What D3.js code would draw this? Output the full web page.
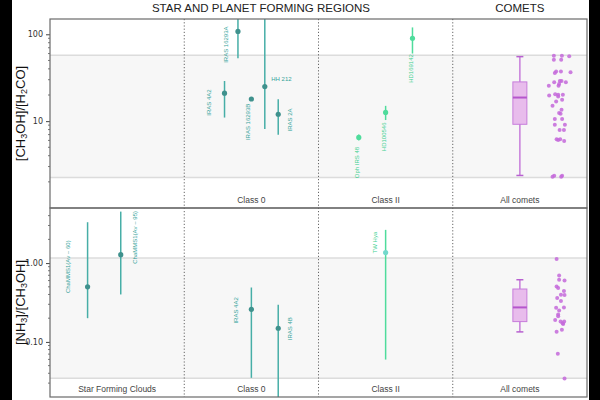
<!DOCTYPE html>
<html>
<head>
<meta charset="utf-8">
<script src="https://cdn.jsdelivr.net/npm/d3@7"></script>
<style>
  body { margin: 0; background: #000; }
  svg { display: block; }
</style>
</head>
<body>
<script>
// columns of the chart
const columns = ["Star Forming Clouds", "Class 0", "Class II", "All comets"];
const topColumnLabels = ["", "Class 0", "Class II", "All comets"];
const botColumnLabels = ["Star Forming Clouds", "Class 0", "Class II", "All comets"];

// [CH3OH]/[H2CO]  (slot = position inside the column, in tenths of its width)
const topClass0 = [
    { name: "IRAS 4A2", slot: -2, v: 21, lo: 11, hi: 29 },
    { name: "IRAS 16293A", slot: -1, v: 108, lo: 53, hi: 400 },
    { name: "IRAS 16293B", slot: 0, v: 18, lo: null, hi: null },
    { name: "HH 212", slot: 1, v: 25, lo: 8.1, hi: 400 },
    { name: "IRAS 2A", slot: 2, v: 12, lo: 6.95, hi: 17.9 }
];
const topClass2 = [
    { name: "Oph IRS 48", slot: -2, v: 6.5, lo: 6.0, hi: 7.0 },
    { name: "HD100546", slot: 0, v: 12.6, lo: 10.3, hi: 15 },
    { name: "HD169142", slot: 2, v: 90, lo: 60, hi: 120 }
];
// label anchors: slot offset and value at label centre
const topClass0Labels = [
    { name: "IRAS 4A2", slot: -3.2, v: 16.4, rot: true },
    { name: "IRAS 16293A", slot: -1.87, v: 76, rot: true },
    { name: "IRAS 16293B", slot: -0.25, v: 9.8, rot: true },
    { name: "HH 212", slot: 2.24, v: 31, rot: false },
    { name: "IRAS 2A", slot: 2.84, v: 10.3, rot: true }
];
const topClass2Labels = [
    { name: "Oph IRS 48", slot: -2.15, v: 3.34, rot: true },
    { name: "HD100546", slot: -0.11, v: 6.6, rot: true },
    { name: "HD169142", slot: 1.9, v: 40.4, rot: true }
];
// comets: [value, jitter]
const topComets = [
    [56.8, -0.46], [56.8, 0.21], [55.8, 0.82], [51, -0.46], [51, 0.15],
    [37.2, -0.27], [35.9, -0.38], [37.2, 0.13], [36.6, 0.93],
    [29, 0.04], [29, 0.18], [25.6, -0.07], [28.1, -0.43], [28.1, 0.54], [26.8, -0.02], [25.5, -0.88],
    [20.4, -0.35], [20.1, -0.1], [19.7, -0.85], [20.1, 0.29], [19.2, -0.1],
    [16.8, -0.27], [17.6, 0.23], [15, -0.57], [13.5, 0.18], [12.4, -0.02], [12.2, 0.1],
    [10.6, -0.38], [10.6, 0.23], [9.1, -0.38], [9.1, 0.46], [7.9, 0.02], [7.9, 0.38],
    [6.2, -0.23], [6.05, -0.1], [6.2, 0.07], [5.9, 0.4],
    [2.35, -0.43], [2.29, -0.57], [2.35, 0.23], [2.29, 0.15]
];
const topBox = [2.37, 9.2, 18.7, 28.3, 55.3];   // min, q1, median, q3, max
const topBand = [2.25, 57.4];

// [NH3]/[CH3OH]
const botClouds = [
    { name: "ChaMMS1(Av ~ 60)", slot: -2.2, v: 0.5, lo: 0.2, hi: 3.3 },
    { name: "ChaMMS1(Av ~ 95)", slot: 0.27, v: 1.28, lo: 0.4, hi: 4.5 }
];
const botClass0 = [
    { name: "IRAS 4A2", slot: 0, v: 0.259, lo: 0.035, hi: 0.49 },
    { name: "IRAS 4B", slot: 2, v: 0.149, lo: 0.01, hi: 0.297 }
];
const botClass2 = [
    { name: "TW Hya", slot: 0, v: 1.36, lo: 0.0597, hi: 2.64 }
];
const botCloudLabels = [
    { name: "ChaMMS1(Av ~ 60)", slot: -3.68, v: 0.9, rot: true },
    { name: "ChaMMS1(Av ~ 95)", slot: 1.34, v: 2.12, rot: true }
];
const botClass0Labels = [
    { name: "IRAS 4A2", slot: -1.12, v: 0.251, rot: true },
    { name: "IRAS 4B", slot: 2.9, v: 0.147, rot: true }
];
const botClass2Labels = [
    { name: "TW Hya", slot: -0.8, v: 1.82, rot: true }
];
const botComets = [
    [1.13, -0.23], [0.697, -0.02], [0.615, -0.02], [0.602, 0.43], [0.506, -0.23],
    [0.483, -0.1], [0.443, 0.38], [0.397, 0.13], [0.394, 0.43], [0.361, -0.18],
    [0.33, 0.13], [0.274, 0.38], [0.272, -0.27], [0.251, -0.02], [0.222, -0.1],
    [0.211, -0.1], [0.19, -0.35], [0.182, 0.1], [0.172, 0.27], [0.181, 0.4],
    [0.169, 0.32], [0.143, 0.21], [0.135, -0.23], [0.0705, -0.13], [0.0343, 0.43]
];
const botBox = [0.134, 0.181, 0.274, 0.469, 0.615];
const botBand = [0.0346, 1.16];

const topTicks = [10, 100];
const botTicks = [0.1, 1];

const width = 600, height = 400;
const left = 50, right = 587;
const panelTop = [19, 208], panelBot = [208, 397];

const teal = "#47aea7", tealDot = "#3f918d", tealText = "#36a49b";
const mint = "#4fdc9c", mintText = "#3fd192";
const purple = "#c468da", boxFill = "#e8bcec", boxStroke = "#c77ddb";

const svg = d3.select("body").append("svg")
    .attr("width", width)
    .attr("height", height);

svg.append("rect")
    .attr("x", 12).attr("y", 0)
    .attr("width", 577).attr("height", height)
    .attr("fill", "#fff");

const x = d3.scaleBand().domain(columns).range([left, right]);
const slotW = x.bandwidth() / 10;
const cx = col => x(col) + x.bandwidth() / 2;
const jitter = d3.scaleLinear().domain([-1, 1]).range([cx("All comets") + 27.5, cx("All comets") + 51.5]);

const yTop = d3.scaleLog().domain([1, 150]).range([panelTop[1], panelTop[0]]);
const yBot = d3.scaleLog().domain([0.02, 5]).range([panelBot[1], panelBot[0]]);

// titles
svg.append("text")
    .attr("x", 261).attr("y", 12)
    .attr("text-anchor", "middle")
    .style("font", "11.5px 'Liberation Sans', Arial, sans-serif")
    .style("fill", "#222")
    .text("STAR AND PLANET FORMING REGIONS");
svg.append("text")
    .attr("x", cx("All comets")).attr("y", 12)
    .attr("text-anchor", "middle")
    .style("font", "11.5px 'Liberation Sans', Arial, sans-serif")
    .style("fill", "#222")
    .text("COMETS");

function drawPanel(id, y, range, band, ticks, tickFmt, colLabels, groups, comets, box, title) {
    const g = svg.append("g");

    g.append("clipPath").attr("id", id)
        .append("rect")
        .attr("x", left).attr("y", range[0])
        .attr("width", right - left).attr("height", range[1] - range[0]);

    // grey band = comet range
    g.append("rect")
        .attr("x", left).attr("y", y(band[1]))
        .attr("width", right - left).attr("height", y(band[0]) - y(band[1]))
        .attr("fill", "#f7f7f7");
    g.selectAll(".bandline")
        .data(band)
        .enter()
        .append("line")
        .attr("x1", left).attr("x2", right)
        .attr("y1", d => y(d)).attr("y2", d => y(d))
        .attr("stroke", "#dcdcdc")
        .attr("stroke-width", 1.5);

    // column labels
    g.selectAll(".collabel")
        .data(colLabels.map((t, i) => ({ t: t, col: columns[i] })))
        .enter()
        .append("text")
        .attr("x", d => cx(d.col))
        .attr("y", range[1] - 5)
        .attr("text-anchor", "middle")
        .style("font", "8.5px 'Liberation Sans', Arial, sans-serif")
        .style("fill", "#444")
        .text(d => d.t);

    const plot = g.append("g").attr("clip-path", `url(#${id})`);

    groups.forEach(grp => {
        const c = cx(grp.col);
        plot.selectAll(null)
            .data(grp.data.filter(d => d.lo !== null))
            .enter()
            .append("line")
            .attr("x1", d => c + d.slot * slotW).attr("x2", d => c + d.slot * slotW)
            .attr("y1", d => y(d.lo)).attr("y2", d => y(d.hi))
            .attr("stroke", grp.line)
            .attr("stroke-width", 1.5);
        plot.selectAll(null)
            .data(grp.data)
            .enter()
            .append("circle")
            .attr("cx", d => c + d.slot * slotW)
            .attr("cy", d => y(d.v))
            .attr("r", 2.6)
            .attr("fill", grp.dot);
        plot.selectAll(null)
            .data(grp.labels)
            .enter()
            .append("text")
            .attr("transform", d => `translate(${c + d.slot * slotW},${y(d.v)})` + (d.rot ? " rotate(-90)" : ""))
            .attr("text-anchor", "middle")
            .attr("dy", "0.35em")
            .style("font", "6px 'Liberation Sans', Arial, sans-serif")
            .style("fill", grp.text)
            .text(d => d.name);
    });

    // comets box plot
    const bc = cx("All comets");
    const bw = 14;
    plot.append("line")
        .attr("x1", bc).attr("x2", bc)
        .attr("y1", y(box[0])).attr("y2", y(box[4]))
        .attr("stroke", boxStroke).attr("stroke-width", 1.5);
    plot.append("rect")
        .attr("x", bc - bw / 2).attr("y", y(box[3]))
        .attr("width", bw).attr("height", y(box[1]) - y(box[3]))
        .attr("fill", boxFill)
        .attr("stroke", boxStroke).attr("stroke-width", 1);
    plot.append("line")
        .attr("x1", bc - bw / 2).attr("x2", bc + bw / 2)
        .attr("y1", y(box[2])).attr("y2", y(box[2]))
        .attr("stroke", "#b555cc").attr("stroke-width", 2);
    plot.selectAll(".cap")
        .data([box[0], box[4]])
        .enter()
        .append("line")
        .attr("x1", bc - 3.5).attr("x2", bc + 3.5)
        .attr("y1", d => y(d)).attr("y2", d => y(d))
        .attr("stroke", "#b861d0").attr("stroke-width", 1.5);

    plot.selectAll(".comet")
        .data(comets)
        .enter()
        .append("circle")
        .attr("cx", d => jitter(d[1]))
        .attr("cy", d => y(d[0]))
        .attr("r", 2)
        .attr("fill", purple)
        .attr("fill-opacity", 0.85);

    // y axis
    const axis = d3.axisLeft(y)
        .tickValues(ticks)
        .tickFormat(tickFmt)
        .tickSize(4)
        .tickPadding(3);
    const ax = g.append("g")
        .attr("transform", `translate(${left},0)`)
        .call(axis);
    ax.select(".domain").remove();
    ax.selectAll("text")
        .style("font", "8px 'DejaVu Sans', sans-serif")
        .style("fill", "#333");
    ax.selectAll("line").attr("stroke", "#444");

    const [d0, d1] = y.domain();
    const minor = [];
    for (let e = Math.floor(Math.log10(d0)); e <= Math.ceil(Math.log10(d1)); e++) {
        for (let k = 2; k <= 9; k++) {
            const v = k * Math.pow(10, e);
            if (v > d0 && v < d1) minor.push(v);
        }
    }
    g.selectAll(null)
        .data(minor)
        .enter()
        .append("line")
        .attr("x1", left - 2).attr("x2", left)
        .attr("y1", d => y(d)).attr("y2", d => y(d))
        .attr("stroke", "#555")
        .attr("stroke-width", 0.8);

    // frame
    g.append("rect")
        .attr("x", left).attr("y", range[0])
        .attr("width", right - left).attr("height", range[1] - range[0])
        .attr("fill", "none")
        .attr("stroke", "#6a6a6a")
        .attr("stroke-width", 1.2);

    // axis title
    const tt = g.append("text")
        .attr("transform", `translate(25,${(range[0] + range[1]) / 2}) rotate(-90)`)
        .attr("text-anchor", "middle")
        .style("font", "13px 'Liberation Sans', Arial, sans-serif")
        .style("fill", "#111");
    title.forEach(part => {
        const ts = tt.append("tspan").text(part[0]);
        if (part[1]) ts.attr("dy", 2).style("font-size", "9px");
        else if (tt.selectAll("tspan").size() > 1) ts.attr("dy", -2);
    });
}

drawPanel("clipTop", yTop, panelTop, topBand, topTicks, d3.format("d"), topColumnLabels,
    [
        { col: "Class 0", data: topClass0, labels: topClass0Labels, line: teal, dot: tealDot, text: tealText },
        { col: "Class II", data: topClass2, labels: topClass2Labels, line: mint, dot: mint, text: mintText }
    ],
    topComets, topBox,
    [["[CH"], ["3", true], ["OH]/[H"], ["2", true], ["CO]"]]);

drawPanel("clipBot", yBot, panelBot, botBand, botTicks, d3.format(".2f"), botColumnLabels,
    [
        { col: "Star Forming Clouds", data: botClouds, labels: botCloudLabels, line: teal, dot: tealDot, text: tealText },
        { col: "Class 0", data: botClass0, labels: botClass0Labels, line: teal, dot: tealDot, text: tealText },
        { col: "Class II", data: botClass2, labels: botClass2Labels, line: mint, dot: "#74d8cc", text: mintText }
    ],
    botComets, botBox,
    [["[NH"], ["3", true], ["]/[CH"], ["3", true], ["OH]"]]);

// dotted column separators
svg.selectAll(".sep")
    .data(columns.slice(1))
    .enter()
    .append("line")
    .attr("x1", d => x(d)).attr("x2", d => x(d))
    .attr("y1", panelTop[0]).attr("y2", panelBot[1])
    .attr("stroke", "#666")
    .attr("stroke-width", 1)
    .attr("stroke-dasharray", "1.2,2");
</script>
</body>
</html>
